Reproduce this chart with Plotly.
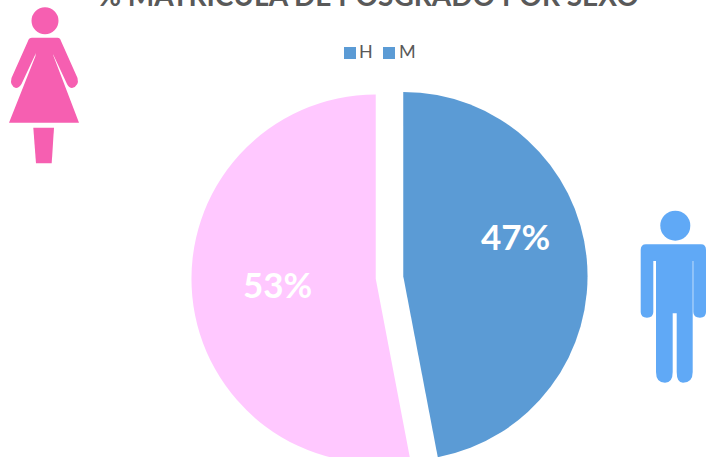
import plotly.graph_objects as go

categories = ["H", "M"]
values = [47, 53]
slice_colors = ["#5B9BD5", "#FFC8FF"]
title_text = "% MATRÍCULA DE POSGRADO POR SEXO"

W, H = 706, 480
FONT = "Lato"


def px(cmds):
    """Build a paper-referenced SVG path from pixel-style commands."""
    out = []
    for c in cmds:
        op, pts = c[0], c[1:]
        out.append(op + " ".join(f"{x / W:.5f},{1 - y / H:.5f}" for x, y in pts))
    return " ".join(out) + " Z"


def pshape(cmds, color):
    return dict(type="path", xref="paper", yref="paper", path=px(cmds),
                fillcolor=color, line=dict(width=0), layer="above")


def circle(cx, cy, r, color):
    return dict(type="circle", xref="paper", yref="paper",
                x0=(cx - r) / W, x1=(cx + r) / W,
                y0=1 - (cy + r) / H, y1=1 - (cy - r) / H,
                fillcolor=color, line=dict(width=0))


def label(x, y, text, size, color, bold=False):
    return dict(xref="paper", yref="paper", x=x / W, y=1 - y / H,
                xanchor="center", yanchor="middle", showarrow=False,
                text=f"<b>{text}</b>" if bold else text,
                font=dict(family=FONT, size=size, color=color))


PINK = "#F65FB1"
SKY = "#60A9F6"

shapes = [
    circle(45, 20.7, 13.5, PINK),
    # dress
    pshape([("M", (35.5, 46)), ("L", (53.5, 46)), ("L", (53.5, 56)), ("L", (79, 122.7)),
            ("L", (9, 122.7)), ("L", (35.5, 56))], PINK),
    # shoulders and arms
    pshape([("M", (32, 37.7)), ("L", (57.5, 37.7)), ("Q", (60, 37.7), (61, 41)),
            ("L", (77.5, 78)), ("Q", (79.5, 86), (72, 88)), ("Q", (69, 88), (67, 84)),
            ("L", (52.5, 53)), ("L", (36, 53)), ("L", (21.5, 84)), ("Q", (19, 88), (16, 88)),
            ("Q", (9.5, 86), (11.5, 78)), ("L", (28, 41)), ("Q", (29, 37.7), (32, 37.7))], PINK),
    # leg
    pshape([("M", (33.3, 127.7)), ("L", (54, 127.7)), ("L", (51.7, 163.3)), ("L", (36, 163.3))], PINK),
    circle(675.3, 225.7, 15, SKY),
    # torso and legs
    pshape([("M", (656, 250)), ("L", (692.7, 250)), ("L", (692.7, 372)),
            ("Q", (692.7, 382.7), (683, 382.7)), ("Q", (676.7, 382.7), (676.7, 372)),
            ("L", (676.7, 313.3)), ("L", (672.7, 313.3)), ("L", (672.7, 372)),
            ("Q", (672.7, 382.7), (665, 382.7)), ("Q", (656, 382.7), (656, 372))], SKY),
    # shoulders and arms
    pshape([("M", (646, 244.3)), ("L", (701, 244.3)), ("Q", (706, 244.3), (706, 250)),
            ("L", (706, 312)), ("Q", (706, 317.7), (700, 317.7)), ("Q", (693.3, 317.7), (693.3, 312)),
            ("L", (693.3, 261)), ("L", (653.3, 261)), ("L", (653.3, 312)),
            ("Q", (653.3, 317.7), (647, 317.7)), ("Q", (640.7, 317.7), (640.7, 312)),
            ("L", (640.7, 250)), ("Q", (640.7, 244.3), (646, 244.3))], SKY),
    # legend swatches (both use the first series colour in the reference)
    dict(type="rect", xref="paper", yref="paper", x0=344 / W, x1=356 / W,
         y0=1 - 59 / H, y1=1 - 47 / H, fillcolor="#5B9BD5", line=dict(width=0)),
    dict(type="rect", xref="paper", yref="paper", x0=383 / W, x1=395 / W,
         y0=1 - 59 / H, y1=1 - 47 / H, fillcolor="#5B9BD5", line=dict(width=0)),
]

total = sum(values)
annotations = [
    label(368.5, -5, title_text, 28, "#595959", True),
    label(366, 51, categories[0], 18, "#595959"),
    label(407, 51, categories[1], 18, "#595959"),
    label(515.5, 235.5, f"{values[0] / total:.0%}", 35, "#FFFFFF", True),
    label(277, 283.5, f"{values[1] / total:.0%}", 35, "#FFFFFF", True),
]

fig = go.Figure(go.Pie(
    labels=categories, values=values, sort=False, direction="clockwise", rotation=0,
    marker=dict(colors=slice_colors, line=dict(width=0)),
    pull=[0.075, 0.075], textinfo="none", hoverinfo="label+percent",
    domain=dict(x=[191.4 / W, 587.6 / W], y=[1 - 475.6 / H, 1 - 79.4 / H]),
))
fig.update_layout(width=W, height=H, margin=dict(l=0, r=0, t=0, b=0),
                  paper_bgcolor="white", showlegend=False,
                  shapes=shapes, annotations=annotations)
fig.write_html("out.html", config=dict(displayModeBar=False),
               post_script="document.body.style.margin='0';document.body.style.overflow='hidden';"
                           "document.documentElement.style.overflow='hidden';")
